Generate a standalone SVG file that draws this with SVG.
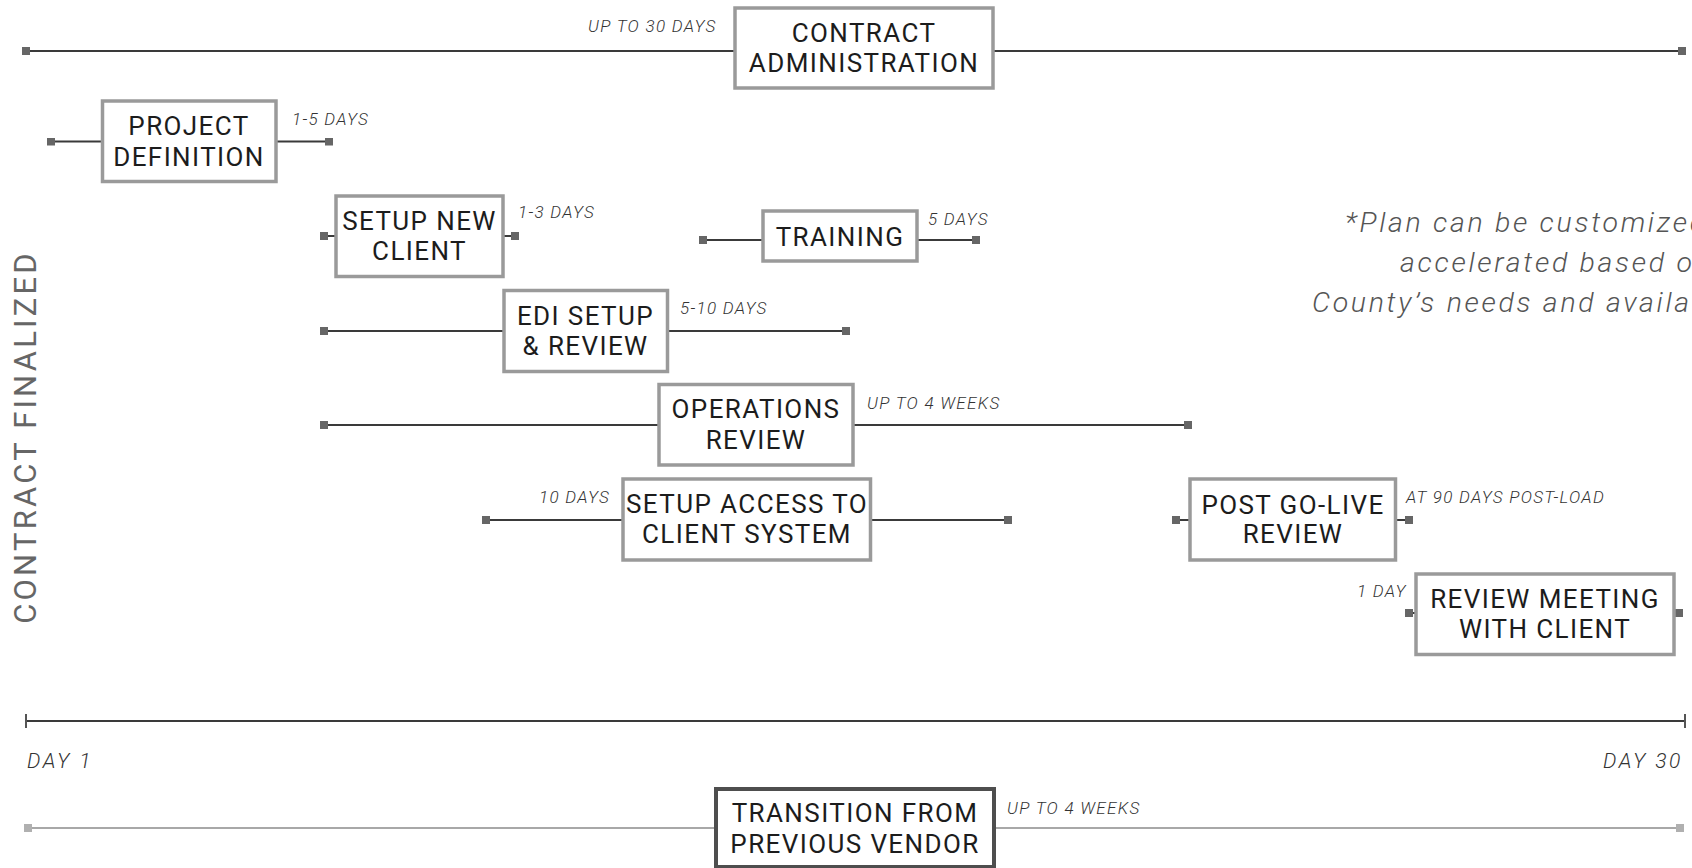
<svg xmlns="http://www.w3.org/2000/svg" width="1692" height="868" viewBox="0 0 1692 868">
<style>
.box{fill:#fff;stroke:#9a9a9a;stroke-width:3.5}
.boxd{fill:#fff;stroke:#4e4e4e;stroke-width:4}
.lbl{font-family:Roboto,"Liberation Sans",sans-serif;font-weight:400;font-size:26px;letter-spacing:1.4px;fill:#1c1c1c;text-anchor:middle}
.dur{font-family:Roboto,"Liberation Sans",sans-serif;font-style:italic;font-weight:300;font-size:17px;letter-spacing:1.3px;fill:#333}
.day{font-family:Roboto,"Liberation Sans",sans-serif;font-style:italic;font-weight:300;font-size:21px;letter-spacing:2.5px;fill:#333}
.note{font-family:Roboto,"Liberation Sans",sans-serif;font-style:italic;font-weight:300;font-size:28.5px;letter-spacing:2.7px;fill:#555}
.side{font-family:Roboto,"Liberation Sans",sans-serif;font-weight:400;font-size:31px;letter-spacing:3.2px;fill:#666;text-anchor:middle}
.ln{stroke:#3a3a3a;stroke-width:2;fill:none;marker-start:url(#sq);marker-end:url(#sq)}
.lnl{stroke:#a8a8a8;stroke-width:2;fill:none;marker-start:url(#sql);marker-end:url(#sql)}
.axis{stroke:#3a3a3a;stroke-width:2;fill:none;marker-start:url(#tick);marker-end:url(#tick)}
</style>
<defs>
<marker id="sq" viewBox="0 0 8 8" refX="4" refY="4" markerWidth="8" markerHeight="8" markerUnits="userSpaceOnUse"><rect width="8" height="8" fill="#666"/></marker>
<marker id="sql" viewBox="0 0 8 8" refX="4" refY="4" markerWidth="8" markerHeight="8" markerUnits="userSpaceOnUse"><rect width="8" height="8" fill="#b0b0b0"/></marker>
<marker id="tick" viewBox="0 0 2 14" refX="1" refY="7" markerWidth="2" markerHeight="14" markerUnits="userSpaceOnUse"><rect width="2" height="14" fill="#555"/></marker>
</defs>
<rect width="1692" height="868" fill="#fff"/>
<g id="connectors">
<line class="ln" x1="26" y1="51" x2="1682" y2="51"/>
<line class="ln" x1="51" y1="141.5" x2="329" y2="141.5"/>
<line class="ln" x1="324" y1="236" x2="515" y2="236"/>
<line class="ln" x1="703" y1="240" x2="976" y2="240"/>
<line class="ln" x1="324" y1="331" x2="846" y2="331"/>
<line class="ln" x1="324" y1="425" x2="1188" y2="425"/>
<line class="ln" x1="486" y1="520" x2="1008" y2="520"/>
<line class="ln" x1="1176" y1="520" x2="1409" y2="520"/>
<line class="ln" x1="1409" y1="613" x2="1679" y2="613"/>
<line class="axis" x1="26" y1="721" x2="1685" y2="721"/>
<line class="lnl" x1="28" y1="828" x2="1680" y2="828"/>
</g>
<g id="contract-administration">
<rect class="box" x="735" y="8" width="258" height="80"/>
<text class="lbl" x="864" y="42">CONTRACT</text>
<text class="lbl" x="864" y="72">ADMINISTRATION</text>
<text class="dur" x="588" y="32">UP TO 30 DAYS</text>
</g>
<g id="project-definition">
<rect class="box" x="102.5" y="101" width="173.5" height="80.5"/>
<text class="lbl" x="189" y="135">PROJECT</text>
<text class="lbl" x="189" y="166">DEFINITION</text>
<text class="dur" x="292" y="125">1-5 DAYS</text>
</g>
<g id="setup-new-client">
<rect class="box" x="336" y="196" width="167" height="80.5"/>
<text class="lbl" x="419.5" y="230">SETUP NEW</text>
<text class="lbl" x="419.5" y="260">CLIENT</text>
<text class="dur" x="518" y="218">1-3 DAYS</text>
</g>
<g id="training">
<rect class="box" x="763" y="211" width="154" height="50"/>
<text class="lbl" x="840" y="246">TRAINING</text>
<text class="dur" x="928" y="225">5 DAYS</text>
</g>
<g id="edi-setup">
<rect class="box" x="504" y="290.5" width="163.5" height="81"/>
<text class="lbl" x="585.5" y="325">EDI SETUP</text>
<text class="lbl" x="585.5" y="355">&amp; REVIEW</text>
<text class="dur" x="680" y="314">5-10 DAYS</text>
</g>
<g id="operations-review">
<rect class="box" x="659" y="384.5" width="194" height="80.5"/>
<text class="lbl" x="756" y="418">OPERATIONS</text>
<text class="lbl" x="756" y="449">REVIEW</text>
<text class="dur" x="867" y="409">UP TO 4 WEEKS</text>
</g>
<g id="setup-access">
<rect class="box" x="623" y="479" width="247.5" height="81"/>
<text class="lbl" x="747" y="513">SETUP ACCESS TO</text>
<text class="lbl" x="747" y="543">CLIENT SYSTEM</text>
<text class="dur" x="539" y="503">10 DAYS</text>
</g>
<g id="post-go-live">
<rect class="box" x="1190" y="479" width="205.5" height="81"/>
<text class="lbl" x="1293" y="514">POST GO-LIVE</text>
<text class="lbl" x="1293" y="543">REVIEW</text>
<text class="dur" x="1406" y="503">AT 90 DAYS POST-LOAD</text>
</g>
<g id="review-meeting">
<rect class="box" x="1416" y="574" width="258" height="80.5"/>
<text class="lbl" x="1545" y="608">REVIEW MEETING</text>
<text class="lbl" x="1545" y="638">WITH CLIENT</text>
<text class="dur" x="1357" y="597">1 DAY</text>
</g>
<g id="transition">
<rect class="boxd" x="716" y="789" width="278" height="78"/>
<text class="lbl" x="855" y="822">TRANSITION FROM</text>
<text class="lbl" x="855" y="853">PREVIOUS VENDOR</text>
<text class="dur" x="1007" y="814">UP TO 4 WEEKS</text>
</g>
<g id="labels">
<text class="side" transform="translate(35.5 437) rotate(-90)">CONTRACT FINALIZED</text>
<text class="day" x="27" y="768">DAY 1</text>
<text class="day" x="1603" y="768">DAY 30</text>
<text class="note" x="1345" y="232">*Plan can be customized</text>
<text class="note" x="1400" y="272">accelerated based o</text>
<text class="note" x="1312" y="312">County’s needs and availa</text>
</g>
</svg>
